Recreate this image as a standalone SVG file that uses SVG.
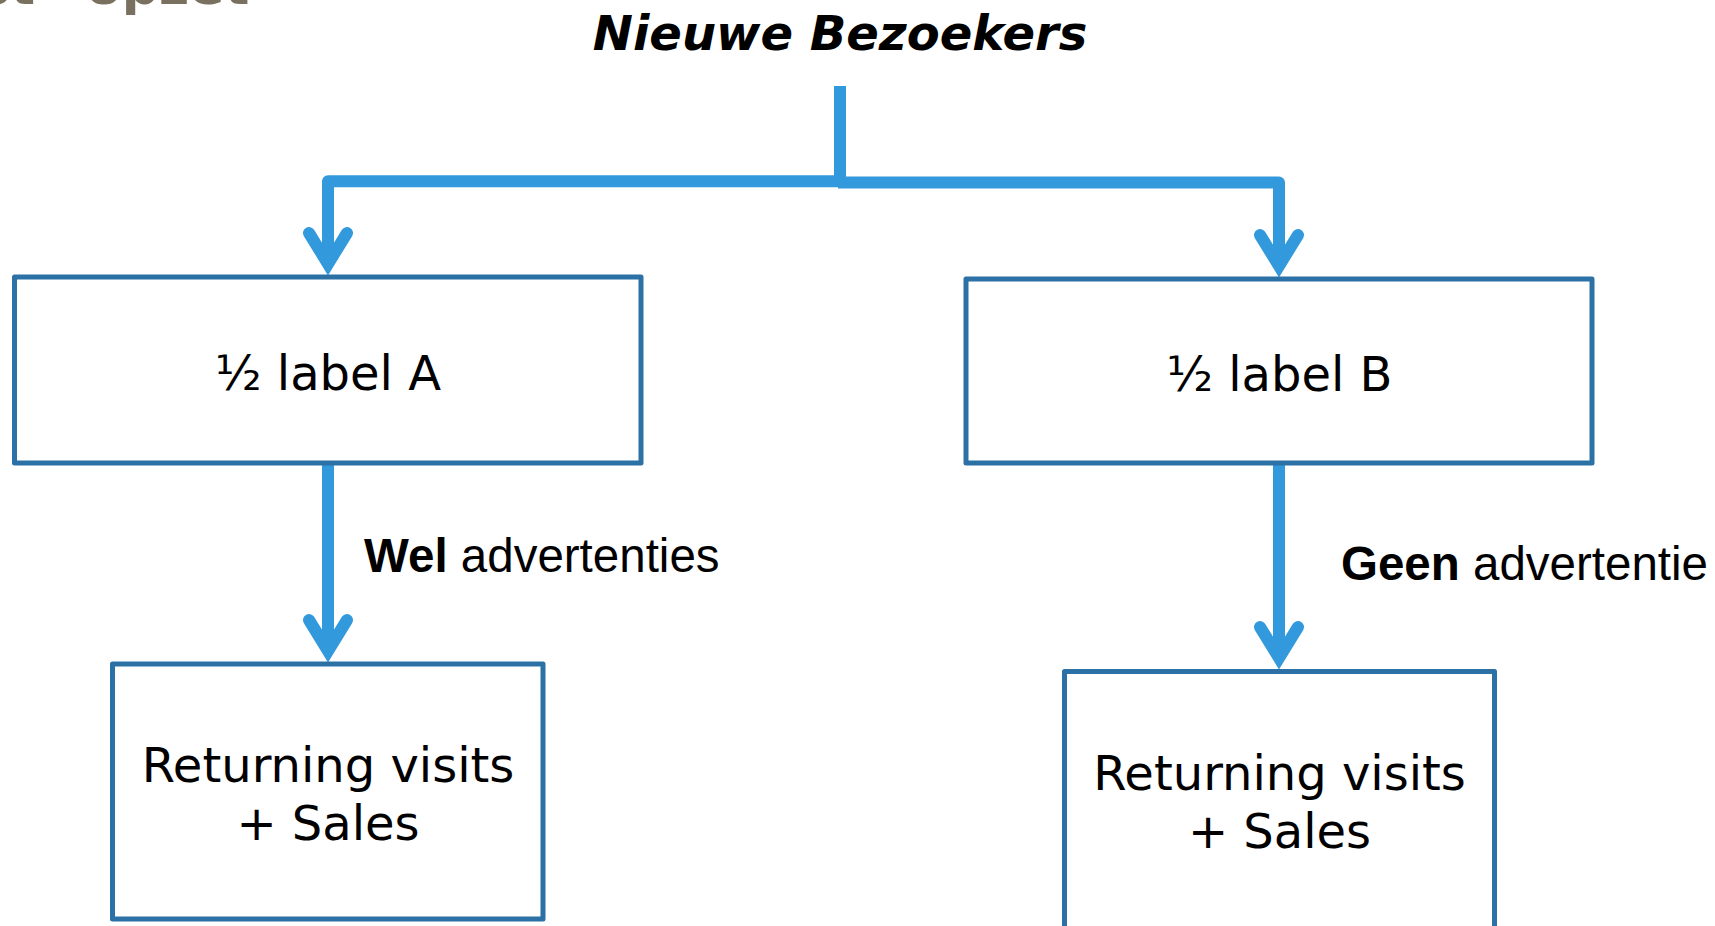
<svg xmlns="http://www.w3.org/2000/svg" width="1715" height="926" viewBox="0 0 1715 926">
  <style>
    .box { fill: #ffffff; stroke: #2B71A6; stroke-width: 5; stroke-linejoin: round; }
    .link { fill: none; stroke: #3399DD; stroke-width: 12; stroke-linejoin: round; }
    .node-text { font-family: "DejaVu Sans", Verdana, sans-serif; font-size: 48px; fill: #000000; text-anchor: middle; }
    .title { font-family: "DejaVu Sans", Verdana, sans-serif; font-size: 48px; font-weight: bold; font-style: italic; fill: #000000; text-anchor: middle; }
    .edge-label { font-family: "Liberation Sans", Arial, sans-serif; font-size: 47.5px; fill: #000000; }
    .edge-label .strong { font-weight: bold; }
    .heading { font-family: "DejaVu Sans", Verdana, sans-serif; font-size: 52px; font-weight: bold; fill: #7A7060; }
  </style>
  <defs>
    <marker id="arrow" markerUnits="userSpaceOnUse" viewBox="-45 -30 60 60" markerWidth="60" markerHeight="60" refX="0" refY="0" orient="auto" overflow="visible">
      <path d="M-31,-19 L0,0 L-31,19" fill="none" stroke="#3399DD" stroke-width="12" stroke-linecap="round" stroke-linejoin="miter"/>
    </marker>
  </defs>

  <rect width="1715" height="926" fill="#ffffff"/>

  <!-- page heading, mostly above the top edge -->
  <g id="heading">
    <text class="heading" x="35" y="4" text-anchor="end">st</text>
    <text class="heading" x="86" y="4">opzet</text>
  </g>

  <!-- source node -->
  <g id="nieuwe-bezoekers">
    <text class="title" x="840" y="49.5">Nieuwe Bezoekers</text>
  </g>

  <!-- connectors -->
  <g id="connectors">
    <path class="link" d="M840,86 V181.3 H328 V264" marker-end="url(#arrow)"/>
    <path class="link" d="M838,182.5 H1279 V266" marker-end="url(#arrow)"/>
    <path class="link" d="M328,463 V651" marker-end="url(#arrow)"/>
    <path class="link" d="M1279,463 V658" marker-end="url(#arrow)"/>
    <text class="edge-label" x="364" y="572"><tspan class="strong">Wel</tspan> advertenties</text>
    <text class="edge-label" x="1341" y="579.5"><tspan class="strong">Geen</tspan> advertentie</text>
  </g>

  <!-- split groups -->
  <g id="label-a">
    <rect class="box" x="14.5" y="277" width="626.5" height="186"/>
    <text class="node-text" x="328" y="389.5">½ label A</text>
  </g>
  <g id="label-b">
    <rect class="box" x="966" y="279" width="626" height="184"/>
    <text class="node-text" x="1279.5" y="391">½ label B</text>
  </g>

  <!-- outcomes -->
  <g id="outcome-a">
    <rect class="box" x="112.5" y="664" width="430.5" height="255"/>
    <text class="node-text" x="328" y="781.5">Returning visits</text>
    <text class="node-text" x="328" y="840">+ Sales</text>
  </g>
  <g id="outcome-b">
    <rect class="box" x="1064.5" y="671.5" width="430" height="280"/>
    <text class="node-text" x="1279.5" y="789.5">Returning visits</text>
    <text class="node-text" x="1279.5" y="847.5">+ Sales</text>
  </g>
</svg>
